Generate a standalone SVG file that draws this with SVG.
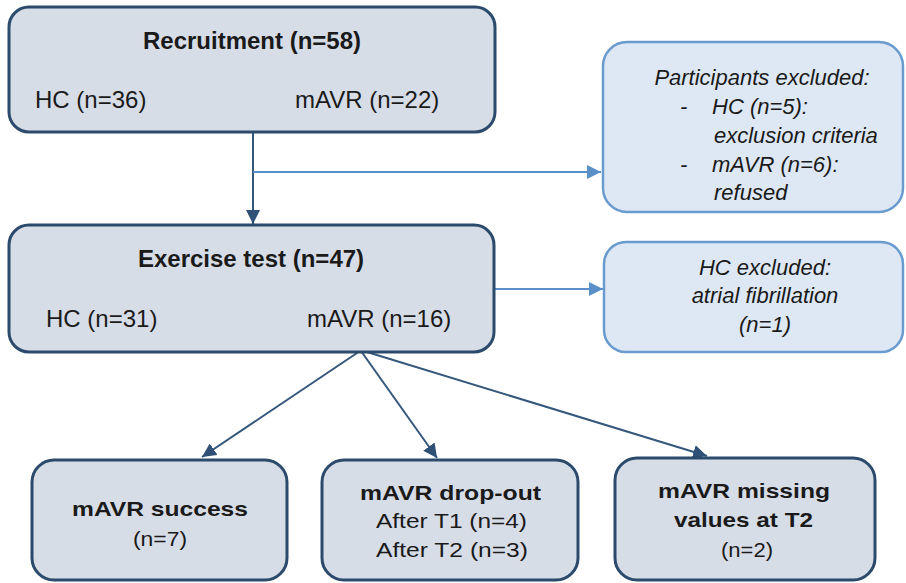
<svg xmlns="http://www.w3.org/2000/svg" width="906" height="583" viewBox="0 0 906 583">
<style>
  .main { fill: #d7dde7; stroke: #2c4a6b; stroke-width: 3; }
  .excl { fill: #dee8f4; stroke: #6a9bcf; stroke-width: 2.5; }
  text { font-family: "Liberation Sans", Arial, sans-serif; fill: #1a1a1a; }
  .t { font-size: 24px; }
  .b { font-weight: bold; }
  .i { font-style: italic; font-size: 22px; }
  .sb { font-size: 21px; font-weight: bold; }
  .s { font-size: 21px; }
  .dark { stroke: #35577c; stroke-width: 2; fill: none; }
  .light { stroke: #5b8fc8; stroke-width: 2; fill: none; }
</style>
<defs>
  <marker id="ad" markerUnits="userSpaceOnUse" markerWidth="16" markerHeight="14" refX="14" refY="7" orient="auto">
    <path d="M0,0 L14,7 L0,14 Z" fill="#2f5177"/>
  </marker>
  <marker id="al" markerUnits="userSpaceOnUse" markerWidth="16" markerHeight="14" refX="14" refY="7" orient="auto">
    <path d="M0,0 L14,7 L0,14 Z" fill="#5b8fc8"/>
  </marker>
</defs>

<g id="connectors">
  <line class="dark" x1="253" y1="132" x2="253" y2="224" marker-end="url(#ad)"/>
  <line class="light" x1="253" y1="172" x2="601" y2="172" marker-end="url(#al)"/>
  <line class="light" x1="494" y1="289" x2="603" y2="289" marker-end="url(#al)"/>
  <line class="dark" x1="360" y1="351" x2="202" y2="457" marker-end="url(#ad)"/>
  <line class="dark" x1="361" y1="351" x2="437" y2="458" marker-end="url(#ad)"/>
  <line class="dark" x1="367" y1="352" x2="707" y2="456" marker-end="url(#ad)"/>
</g>

<g id="recruitment">
  <rect class="main" x="9" y="7" width="486" height="125" rx="20"/>
  <text class="t b" x="252" y="49" text-anchor="middle">Recruitment (n=58)</text>
  <text class="t" x="35" y="108">HC (n=36)</text>
  <text class="t" x="295" y="108">mAVR (n=22)</text>
</g>

<g id="exercise">
  <rect class="main" x="9" y="225" width="485" height="127" rx="20"/>
  <text class="t b" x="251" y="267" text-anchor="middle">Exercise test (n=47)</text>
  <text class="t" x="46" y="327">HC (n=31)</text>
  <text class="t" x="307" y="327">mAVR (n=16)</text>
</g>

<g id="excluded1">
  <rect class="excl" x="603" y="42" width="300" height="170" rx="24"/>
  <text class="i" x="762" y="85" text-anchor="middle">Participants excluded:</text>
  <text class="i" x="680" y="114">-</text>
  <text class="i" x="712" y="114">HC (n=5):</text>
  <text class="i" x="714" y="143">exclusion criteria</text>
  <text class="i" x="680" y="172">-</text>
  <text class="i" x="712" y="172">mAVR (n=6):</text>
  <text class="i" x="714" y="200">refused</text>
</g>

<g id="excluded2">
  <rect class="excl" x="604" y="242" width="299" height="110" rx="22"/>
  <text class="i" x="765" y="275" text-anchor="middle">HC excluded:</text>
  <text class="i" x="765" y="303" text-anchor="middle">atrial fibrillation</text>
  <text class="i" x="765" y="332" text-anchor="middle">(n=1)</text>
</g>

<g id="success">
  <rect class="main" x="32" y="460" width="255" height="120" rx="22"/>
  <text class="sb" x="72" y="516" textLength="176" lengthAdjust="spacingAndGlyphs">mAVR success</text>
  <text class="s" x="133" y="546" textLength="54" lengthAdjust="spacingAndGlyphs">(n=7)</text>
</g>

<g id="dropout">
  <rect class="main" x="322" y="460" width="256" height="120" rx="22"/>
  <text class="sb" x="360" y="500" textLength="181" lengthAdjust="spacingAndGlyphs">mAVR drop-out</text>
  <text class="s" x="376" y="528" textLength="151" lengthAdjust="spacingAndGlyphs">After T1 (n=4)</text>
  <text class="s" x="376" y="557" textLength="152" lengthAdjust="spacingAndGlyphs">After T2 (n=3)</text>
</g>

<g id="missing">
  <rect class="main" x="615" y="458" width="260" height="122" rx="22"/>
  <text class="sb" x="658" y="498" textLength="172" lengthAdjust="spacingAndGlyphs">mAVR missing</text>
  <text class="sb" x="674" y="527" textLength="139" lengthAdjust="spacingAndGlyphs">values at T2</text>
  <text class="s" x="721" y="557" textLength="52" lengthAdjust="spacingAndGlyphs">(n=2)</text>
</g>
</svg>
